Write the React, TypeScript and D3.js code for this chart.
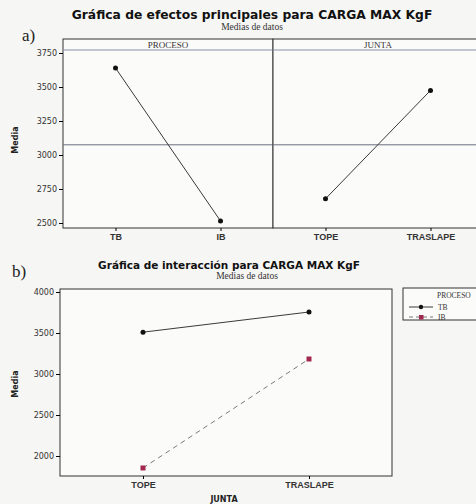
import { useEffect, useRef } from "react";
import * as d3 from "d3";

// main effects (a)
const procesoLevels = ["TB", "IB"];
const procesoMeans = [3640, 2515];
const juntaLevels = ["TOPE", "TRASLAPE"];
const juntaMeans = [2678, 3475];
const grandMean = 3075;
const yTicksA = [2500, 2750, 3000, 3250, 3500, 3750];

// interaction (b)
const seriesNames = ["TB", "IB"];
const tbMeans = [3510, 3756];
const ibMeans = [1854, 3183];
const yTicksB = [2000, 2500, 3000, 3500, 4000];

const sans = "'DejaVu Sans', Verdana, sans-serif";
const tickFont = "'DejaVu Sans', Verdana, sans-serif";
const xFont = "'Liberation Sans', Arial, sans-serif";
const serif = "'Liberation Serif', 'DejaVu Serif', serif";

export default function App() {
  const ref = useRef<SVGSVGElement>(null);

  useEffect(() => {
    const svg = d3.select(ref.current);
    svg.selectAll("*").remove();
    svg.append("rect").attr("width", 476).attr("height", 504).attr("fill", "#f6f6f4");
    const fmt = d3.format("d");

    // ---------- a) main effects ----------
    svg.append("text").text("a)").attr("x", 22).attr("y", 41)
      .style("font-family", serif).style("font-size", "17px").attr("fill", "#222");
    svg.append("text").text("Gráfica de efectos principales para CARGA MAX KgF")
      .attr("x", 252).attr("y", 19).attr("text-anchor", "middle")
      .style("font-family", sans).style("font-weight", "bold").style("font-size", "12.3px").attr("fill", "#111");
    svg.append("text").text("Medias de datos")
      .attr("x", 252).attr("y", 30).attr("text-anchor", "middle")
      .style("font-family", serif).style("font-size", "9.5px").attr("fill", "#333");

    const ya = d3.scaleLinear().domain([2500, 3750]).range([223, 53]);
    const top = 39, bottom = 228, strip = 50;
    const panels = [
      { name: "PROCESO", levels: procesoLevels, means: procesoMeans, x0: 63, x1: 273 },
      { name: "JUNTA", levels: juntaLevels, means: juntaMeans, x0: 273, x1: 483 },
    ];

    panels.forEach((p) => {
      const g = svg.append("g");
      g.append("rect").attr("x", p.x0).attr("y", top).attr("width", p.x1 - p.x0).attr("height", bottom - top)
        .attr("fill", "#fbfbfa").attr("stroke", "#333").attr("stroke-width", 1);
      g.append("line").attr("x1", p.x0).attr("x2", p.x1).attr("y1", strip).attr("y2", strip)
        .attr("stroke", "#8c92aa").attr("stroke-width", 1.2);
      g.append("text").text(p.name).attr("x", (p.x0 + p.x1) / 2).attr("y", 48).attr("text-anchor", "middle")
        .style("font-family", serif).style("font-size", "9px").attr("fill", "#333");
      g.append("line").attr("x1", p.x0).attr("x2", p.x1).attr("y1", ya(grandMean)).attr("y2", ya(grandMean))
        .attr("stroke", "#6c7080").attr("stroke-width", 1);

      const x = d3.scalePoint<string>().domain(p.levels).range([p.x0, p.x1]).padding(0.5);
      const xAxis = d3.axisBottom(x).tickSize(3).tickPadding(3);
      const ax = g.append("g").attr("transform", `translate(0,${bottom})`).call(xAxis);
      ax.select(".domain").remove();
      ax.selectAll("text").style("font-family", xFont).style("font-size", "9px").style("font-weight", "bold").attr("fill", "#333");

      const line = d3.line<number>().x((_, i) => x(p.levels[i]) as number).y((d) => ya(d));
      g.append("path").attr("d", line(p.means)).attr("fill", "none").attr("stroke", "#3a3a3a").attr("stroke-width", 1);
      g.selectAll("circle.pt").data(p.means).enter().append("circle")
        .attr("cx", (_, i) => x(p.levels[i]) as number).attr("cy", (d) => ya(d)).attr("r", 2.5).attr("fill", "#111");
    });

    const ayA = svg.append("g").attr("transform", "translate(63,0)")
      .call(d3.axisLeft(ya).tickValues(yTicksA).tickFormat(fmt).tickSize(4).tickPadding(2));
    ayA.select(".domain").remove();
    ayA.selectAll("text").style("font-family", tickFont).style("font-size", "8px").attr("fill", "#333");
    svg.append("text").text("Media").attr("transform", "translate(18,140) rotate(-90)").attr("text-anchor", "middle")
      .style("font-family", sans).style("font-weight", "bold").style("font-size", "8px").attr("fill", "#222");

    // ---------- b) interaction ----------
    svg.append("text").text("b)").attr("x", 12).attr("y", 277)
      .style("font-family", serif).style("font-size", "17px").attr("fill", "#222");
    svg.append("text").text("Gráfica de interacción para CARGA MAX KgF")
      .attr("x", 229).attr("y", 269).attr("text-anchor", "middle")
      .style("font-family", sans).style("font-weight", "bold").style("font-size", "10.5px").attr("fill", "#111");
    svg.append("text").text("Medias de datos")
      .attr("x", 247).attr("y", 279).attr("text-anchor", "middle")
      .style("font-family", serif).style("font-size", "9.5px").attr("fill", "#333");

    const bx0 = 60, bx1 = 392, bTop = 289, bBottom = 476;
    const yb = d3.scaleLinear().domain([2000, 4000]).range([456, 292]);
    const xb = d3.scalePoint<string>().domain(juntaLevels).range([bx0, bx1]).padding(0.5);

    svg.append("rect").attr("x", bx0).attr("y", bTop).attr("width", bx1 - bx0).attr("height", bBottom - bTop)
      .attr("fill", "#fbfbfa").attr("stroke", "#333").attr("stroke-width", 1);

    const ayB = svg.append("g").attr("transform", `translate(${bx0},0)`)
      .call(d3.axisLeft(yb).tickValues(yTicksB).tickFormat(fmt).tickSize(4).tickPadding(2));
    ayB.select(".domain").remove();
    ayB.selectAll("text").style("font-family", tickFont).style("font-size", "8px").attr("fill", "#333");

    const axB = svg.append("g").attr("transform", `translate(0,${bBottom})`).call(d3.axisBottom(xb).tickSize(3).tickPadding(3));
    axB.select(".domain").remove();
    axB.selectAll("text").style("font-family", xFont).style("font-size", "9px").style("font-weight", "bold").attr("fill", "#333");

    svg.append("text").text("JUNTA").attr("x", 224).attr("y", 502).attr("text-anchor", "middle")
      .style("font-family", sans).style("font-weight", "bold").style("font-size", "8px").attr("fill", "#222");
    svg.append("text").text("Media").attr("transform", "translate(18,384) rotate(-90)").attr("text-anchor", "middle")
      .style("font-family", sans).style("font-weight", "bold").style("font-size", "8px").attr("fill", "#222");

    const series = [
      { name: seriesNames[0], values: tbMeans, color: "#111", lineColor: "#3a3a3a", dash: null as string | null, shape: "circle" },
      { name: seriesNames[1], values: ibMeans, color: "#a3284f", lineColor: "#7a7a7a", dash: "5,4", shape: "square" },
    ];
    const lineB = d3.line<number>().x((_, i) => xb(juntaLevels[i]) as number).y((d) => yb(d));
    series.forEach((s) => {
      svg.append("path").attr("d", lineB(s.values)).attr("fill", "none").attr("stroke", s.lineColor)
        .attr("stroke-width", 1).attr("stroke-dasharray", s.dash);
      s.values.forEach((v, i) => {
        const cx = xb(juntaLevels[i]) as number, cy = yb(v);
        if (s.shape === "circle") svg.append("circle").attr("cx", cx).attr("cy", cy).attr("r", 2.5).attr("fill", s.color);
        else svg.append("rect").attr("x", cx - 2.5).attr("y", cy - 2.5).attr("width", 5).attr("height", 5).attr("fill", s.color);
      });
    });

    // legend
    const lg = svg.append("g");
    lg.append("rect").attr("x", 403).attr("y", 288).attr("width", 80).attr("height", 32)
      .attr("fill", "#fbfbfa").attr("stroke", "#333").attr("stroke-width", 1);
    lg.append("text").text("PROCESO").attr("x", 437).attr("y", 298)
      .style("font-family", serif).style("font-size", "7.5px").attr("fill", "#333");
    series.forEach((s, i) => {
      const y = 307 + i * 10;
      lg.append("line").attr("x1", 409).attr("x2", 433).attr("y1", y).attr("y2", y)
        .attr("stroke", s.lineColor).attr("stroke-width", 1).attr("stroke-dasharray", s.dash ? "4,3" : null);
      if (s.shape === "circle") lg.append("circle").attr("cx", 421).attr("cy", y).attr("r", 2.2).attr("fill", s.color);
      else lg.append("rect").attr("x", 419).attr("y", y - 2).attr("width", 4.5).attr("height", 4.5).attr("fill", s.color);
      lg.append("text").text(s.name).attr("x", 438).attr("y", y + 2.5)
        .style("font-family", serif).style("font-size", "7.5px").attr("fill", "#333");
    });
  }, []);

  return <svg ref={ref} width={476} height={504} style={{ position: "absolute", left: 0, top: 0 }} />;
}
